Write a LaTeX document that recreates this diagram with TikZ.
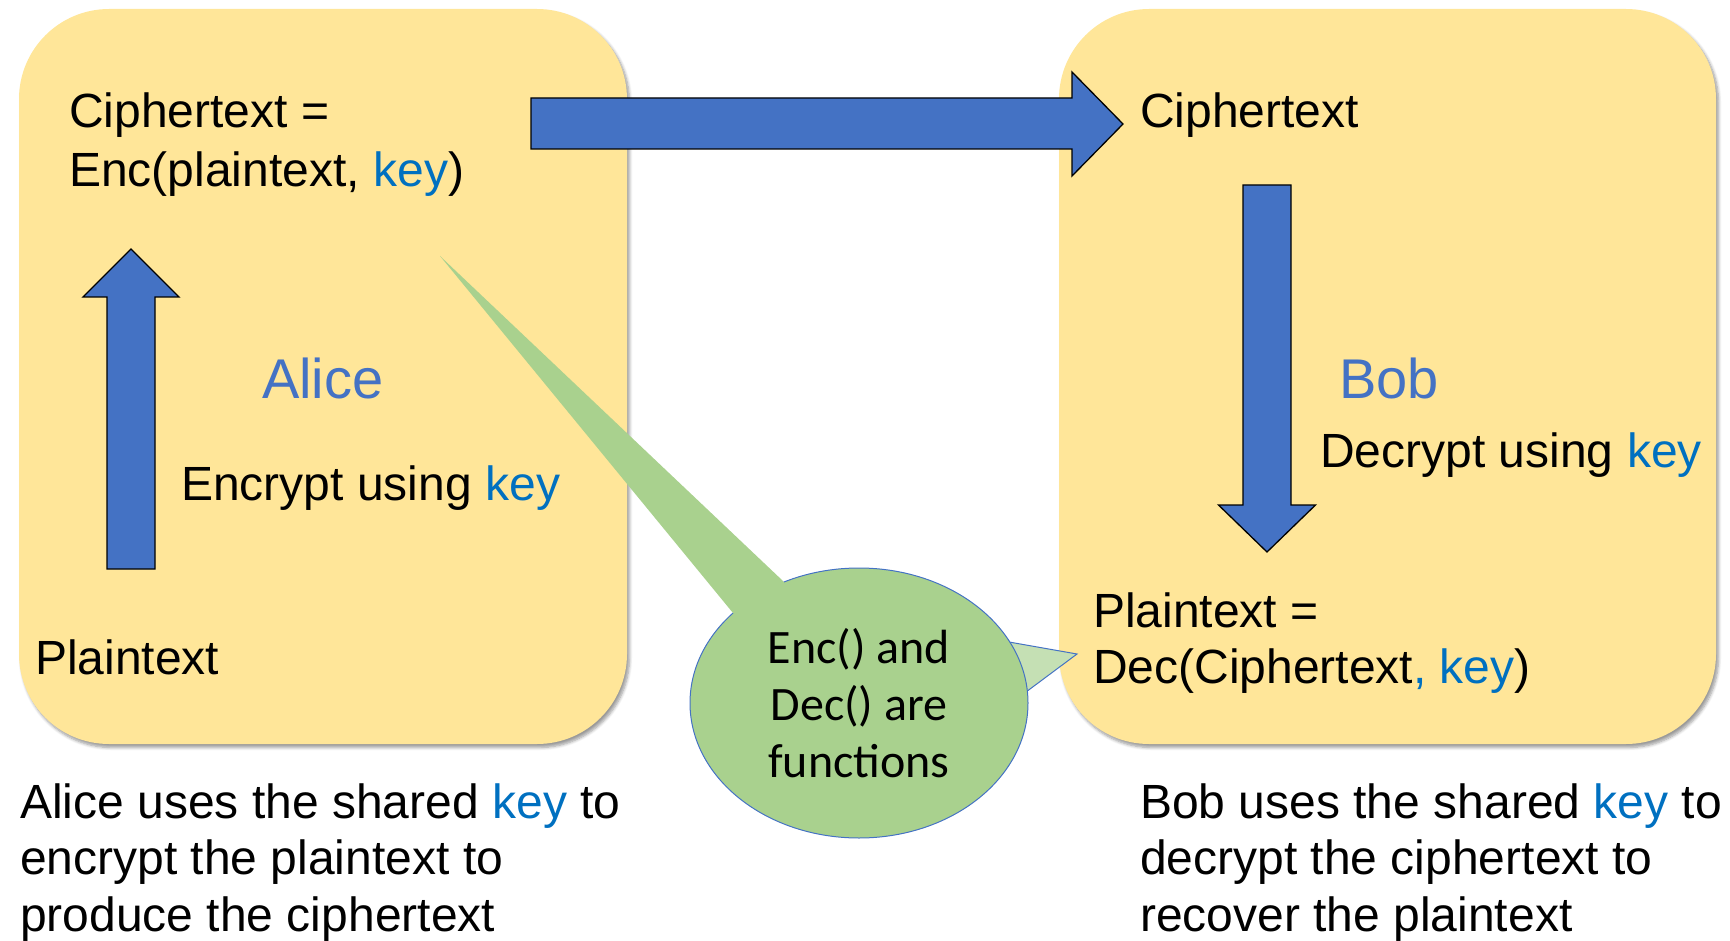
\documentclass[tikz,border=0pt]{standalone}
\usepackage{fontspec}
\setmainfont{Liberation Sans}
\newfontfamily\calloutfont{Carlito}
\usetikzlibrary{shapes.geometric,shadows.blur}
\definecolor{boxfill}{HTML}{FFE699}
\definecolor{arrowblue}{HTML}{4472C4}
\definecolor{keyblue}{HTML}{0070C0}
\definecolor{calloutgreen}{HTML}{A9D18E}
\definecolor{pointergreen}{HTML}{C5E0B4}
\newcommand{\kw}[1]{\textcolor{keyblue}{#1}}

\begin{document}
\begin{tikzpicture}[x=1pt,y=-1pt,
  panel/.style={rectangle, fill=boxfill, rounded corners=90pt, inner sep=0pt,
    blur shadow={shadow xshift=2.5pt, shadow yshift=-3.5pt, shadow blur radius=3pt,
      shadow blur steps=6, shadow opacity=40}},
  blockarrow/.style={fill=arrowblue, draw=black, line width=1.3pt, line join=miter},
  txt/.style={inner sep=0pt, anchor=base west, font=\fontsize{48}{57.5}\selectfont},
  person/.style={inner sep=0pt, anchor=base west, font=\fontsize{56}{67}\selectfont, text=arrowblue},
  bubbletxt/.style={inner sep=0pt, anchor=base, font=\calloutfont\fontsize{48}{57}\selectfont},
]
\useasboundingbox (0,0) rectangle (1730,941);

% the two parties
\node[panel, minimum width=608pt, minimum height=735pt] (alicebox) at (323,376.5) {};
\node[panel, minimum width=657pt, minimum height=735pt] (bobbox) at (1387.5,376.5) {};

% block arrows
\path[blockarrow] (107,569) -- (107,297) -- (83,297) -- (131,249) -- (179,297)
  -- (155,297) -- (155,569) -- cycle;
\path[blockarrow] (531,98) -- (1072,98) -- (1072,72) -- (1123,124) -- (1072,176)
  -- (1072,149) -- (531,149) -- cycle;
\path[blockarrow] (1243,185) -- (1291,185) -- (1291,505) -- (1315.5,505) -- (1267,552)
  -- (1218.5,505) -- (1243,505) -- cycle;

% Alice's side
\node[txt] (aliceout1) at (69,128) {Ciphertext =};
\node[txt] (aliceout2) at (69,187) {Enc(plaintext, \kw{key})};
\node[person] (alicename) at (262,398) {Alice};
\node[txt] (encstep) at (181,500) {Encrypt using \kw{key}};
\node[txt] (alicein) at (35,674) {Plaintext};

% Bob's side
\node[txt] (bobin) at (1140,128) {Ciphertext};
\node[person] (bobname) at (1339,398) {Bob};
\node[txt] (decstep) at (1320,467) {Decrypt using \kw{key}};
\node[txt] (bobout1) at (1093,627) {Plaintext =};
\node[txt] (bobout2) at (1093,683) {Dec(Ciphertext\kw{, key})};

% captions
\node[txt] (alicecap1) at (20,818) {Alice uses the shared \kw{key} to};
\node[txt] (alicecap2) at (20,874) {encrypt the plaintext to};
\node[txt] (alicecap3) at (20,931) {produce the ciphertext};
\node[txt] (bobcap1) at (1140,818) {Bob uses the shared \kw{key} to};
\node[txt] (bobcap2) at (1140,874) {decrypt the ciphertext to};
\node[txt] (bobcap3) at (1140,931) {recover the plaintext};

% speech bubble with its two pointers
\coordinate (tipenc) at (440,256);
\coordinate (tipdec) at (1077,654);
\path[fill=pointergreen, draw=arrowblue, line width=1pt, line join=miter]
  (1009,642) -- (tipdec) -- (1026,692) -- cycle;
\node[ellipse, fill=calloutgreen, draw=arrowblue, line width=1pt, inner sep=0pt,
  minimum width=338pt, minimum height=270pt] (bubble) at (859,703) {};
\path[fill=calloutgreen] (tipenc) -- (783,581) -- (bubble.center) -- (733,613) -- cycle;
\node[bubbletxt] (bubble1) at (859,663) {Enc() and};
\node[bubbletxt] (bubble2) at (859,720) {Dec() are};
\node[bubbletxt] (bubble3) at (859,777) {functions};
\end{tikzpicture}
\end{document}
